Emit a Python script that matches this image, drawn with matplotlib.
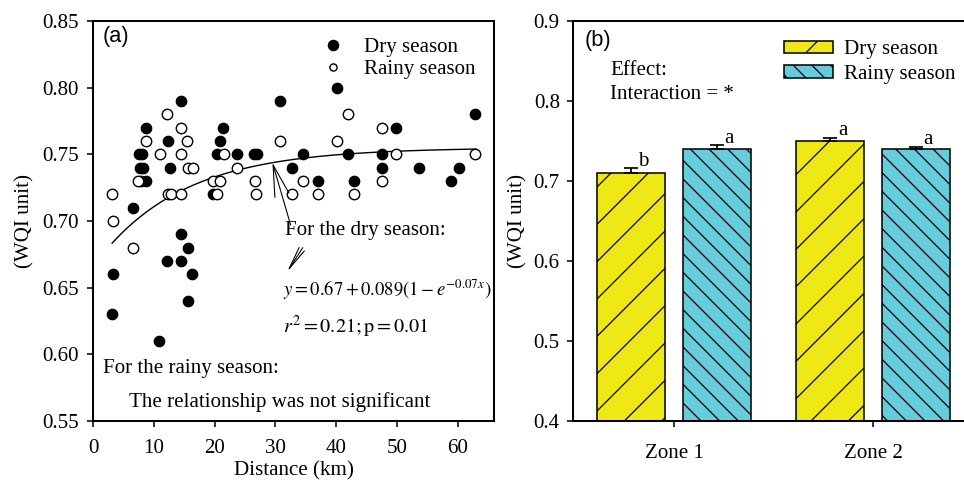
import numpy as np
import matplotlib
matplotlib.use("Agg")
import matplotlib.pyplot as plt
from matplotlib.lines import Line2D
from matplotlib.patches import Patch

plt.rcParams['font.family'] = ['Liberation Serif', 'DejaVu Serif']
plt.rcParams['mathtext.fontset'] = 'stix'
plt.rcParams['hatch.linewidth'] = 0.8
plt.rcParams['font.size'] = 13.5

# ---- panel (a) data : distance (km) vs WQI ----
dry_x = [14.4, 8.6, 21.4, 30.7, 12.3, 20.8, 7.5, 8.1, 20.4, 23.7, 26.4, 26.9,
         7.7, 8.2, 12.7, 7.9, 8.6, 19.7, 6.5, 14.4, 15.6, 12.1, 14.4, 3.3,
         16.3, 15.6, 3.1, 10.9, 40.2, 62.8, 49.9, 34.5, 41.9, 47.5, 32.8, 47.5,
         53.7, 60.3, 37.0, 43.0, 58.9]
dry_y = [0.79, 0.77, 0.77, 0.79, 0.76, 0.76, 0.75, 0.75, 0.75, 0.75, 0.75, 0.75,
         0.74, 0.74, 0.74, 0.73, 0.73, 0.72, 0.71, 0.69, 0.68, 0.67, 0.67, 0.66,
         0.66, 0.64, 0.63, 0.61, 0.80, 0.78, 0.77, 0.75, 0.75, 0.75, 0.74, 0.74,
         0.74, 0.74, 0.73, 0.73, 0.73]

rainy_x = [12.1, 14.5, 8.6, 15.5, 30.7, 11.0, 14.5, 21.5, 15.6, 16.4, 23.7, 7.4,
           19.7, 20.8, 26.6, 3.1, 12.3, 12.8, 14.4, 20.4, 26.8, 3.2, 6.5, 41.9,
           47.5, 40.2, 49.9, 62.8, 34.5, 47.5, 32.8, 37.0, 43.0]
rainy_y = [0.78, 0.77, 0.76, 0.76, 0.76, 0.75, 0.75, 0.75, 0.74, 0.74, 0.74, 0.73,
           0.73, 0.73, 0.73, 0.72, 0.72, 0.72, 0.72, 0.72, 0.72, 0.70, 0.68, 0.78,
           0.77, 0.76, 0.75, 0.75, 0.73, 0.73, 0.72, 0.72, 0.72]

# fitted model for the dry season (unrounded intercept, as drawn)
fit_a, fit_b, fit_k = 0.666, 0.089, 0.07
fit_range = (3.1, 63.0)

# ---- panel (b) data ----
zones = ['Zone 1', 'Zone 2']
dry_mean = [0.71, 0.75]
dry_err = [0.006, 0.004]
rainy_mean = [0.74, 0.74]
rainy_err = [0.005, 0.003]
dry_letters = ['b', 'a']
rainy_letters = ['a', 'a']

def dry_fit(x):
    return fit_a + fit_b * (1 - np.exp(-fit_k * x))

fig = plt.figure(figsize=(964 / 112, 482 / 112), dpi=112)
ax1 = fig.add_axes([0.0968, 0.1266, 0.4157, 0.8299])
ax2 = fig.add_axes([0.5944, 0.1266, 0.4046, 0.8299])

for ax in (ax1, ax2):
    for s in ax.spines.values():
        s.set_linewidth(1.3)
    ax.tick_params(direction='out', length=4, width=1.0, labelsize=13.5)

# ---------------- (a) ----------------
ax1.scatter(dry_x, dry_y, s=45, c='black', edgecolors='black', linewidths=0.8, zorder=3)
ax1.scatter(rainy_x, rainy_y, s=45, facecolors='white', edgecolors='black', linewidths=0.9, zorder=3)
xx = np.linspace(fit_range[0], fit_range[1], 200)
ax1.plot(xx, dry_fit(xx), color='black', lw=0.9, zorder=2)

ax1.set_xlim(0, 66)
ax1.set_ylim(0.55, 0.85)
ax1.set_xticks(np.arange(0, 61, 10))
ax1.set_yticks(np.arange(0.55, 0.851, 0.05))
ax1.set_yticklabels(['%.2f' % v for v in np.arange(0.55, 0.851, 0.05)])
ax1.tick_params(axis='x', pad=7.5)
ax1.tick_params(axis='y', pad=5.5)
ax1.set_xlabel('Distance (km)', labelpad=2)
ax1.set_ylabel('(WQI unit)', labelpad=5)

ax1.text(0.023, 0.962, '(a)', transform=ax1.transAxes, family='Liberation Sans',
         fontsize=14, va='center', ha='left')

h1 = [Line2D([], [], ls='none', marker='o', ms=6.4, mfc='black', mec='black'),
      Line2D([], [], ls='none', marker='o', ms=4.6, mfc='white', mec='black', mew=0.9)]
ax1.legend(h1, ['Dry season', 'Rainy season'], loc='upper left',
           bbox_to_anchor=(0.545, 0.985), frameon=False, borderpad=0,
           handlelength=1.0, handletextpad=1.0, labelspacing=0.12, fontsize=13.5)

ax1.text(31.5, 0.693, 'For the dry season:', ha='left', va='center')
ax1.text(31.3, 0.648, r'$y=0.67+0.089(1-e^{-0.07x})$', ha='left', va='center', fontsize=12)
ax1.text(31.3, 0.6205, r'$r^2=0.21;\mathrm{p}=0.01$', ha='left', va='center', fontsize=13)
ax1.text(1.6, 0.5895, 'For the rainy season:', ha='left', va='center')
ax1.text(5.95, 0.5645, 'The relationship was not significant', ha='left', va='center')

# arrows from the label to the curve and to the equation
ax1.annotate('', xy=(29.5, dry_fit(29.5)), xytext=(32.5, 0.697),
             arrowprops=dict(arrowstyle='->,head_length=1.5,head_width=0.35',
                             color='black', lw=0.7, shrinkA=0, shrinkB=0))
ax1.annotate('', xy=(31.9, 0.6617), xytext=(34.5, 0.680),
             arrowprops=dict(arrowstyle='->,head_length=1.1,head_width=0.15',
                             color='black', lw=0.7, shrinkA=0, shrinkB=0))

# ---------------- (b) ----------------
pos = np.arange(1, len(zones) + 1)
off, w = 0.215, 0.343
ax2.bar(pos - off, dry_mean, w, color='#F0E814', edgecolor='black', lw=1.0, hatch='/', zorder=2)
ax2.bar(pos + off, rainy_mean, w, color='#66CCDC', edgecolor='black', lw=1.0, hatch='\\\\', zorder=2)
ax2.errorbar(pos - off, dry_mean, yerr=[np.zeros(len(zones)), dry_err], fmt='none',
             ecolor='black', elinewidth=1.1, capsize=4.5, capthick=1.1, zorder=3)
ax2.errorbar(pos + off, rainy_mean, yerr=[np.zeros(len(zones)), rainy_err], fmt='none',
             ecolor='black', elinewidth=1.1, capsize=4.5, capthick=1.1, zorder=3)
for i in range(len(zones)):
    ax2.text(pos[i] - off + 0.062, dry_mean[i] + dry_err[i] + 0.003, dry_letters[i],
             ha='center', va='baseline')
    ax2.text(pos[i] + off + 0.062, rainy_mean[i] + rainy_err[i] + 0.003, rainy_letters[i],
             ha='center', va='baseline')

ax2.set_xlim(0.4925, 2.452)
ax2.set_ylim(0.4, 0.9)
ax2.set_xticks(pos)
ax2.set_xticklabels(zones)
ax2.tick_params(axis='x', pad=11)
ax2.tick_params(axis='y', pad=4.5)
ax2.set_yticks(np.arange(0.4, 0.91, 0.1))
ax2.set_yticklabels(['%.1f' % v for v in np.arange(0.4, 0.91, 0.1)])
ax2.set_ylabel('(WQI unit)', labelpad=4)
ax2.spines['right'].set_visible(False)

ax2.text(0.031, 0.952, '(b)', transform=ax2.transAxes, family='Liberation Sans',
         fontsize=14, va='center', ha='left')
ax2.text(0.095, 0.876, 'Effect:', transform=ax2.transAxes, va='center', ha='left')
ax2.text(0.095, 0.817, 'Interaction = *', transform=ax2.transAxes, va='center', ha='left')

h2 = [Patch(facecolor='#F0E814', edgecolor='black', hatch='/'),
      Patch(facecolor='#66CCDC', edgecolor='black', hatch='\\\\')]
ax2.legend(h2, ['Dry season', 'Rainy season'], loc='upper left',
           bbox_to_anchor=(0.515, 0.9775), frameon=False, borderpad=0,
           handlelength=2.3, handleheight=0.55, handletextpad=0.55,
           labelspacing=0.25, fontsize=13.5)

fig.savefig('out.png', dpi=112)
